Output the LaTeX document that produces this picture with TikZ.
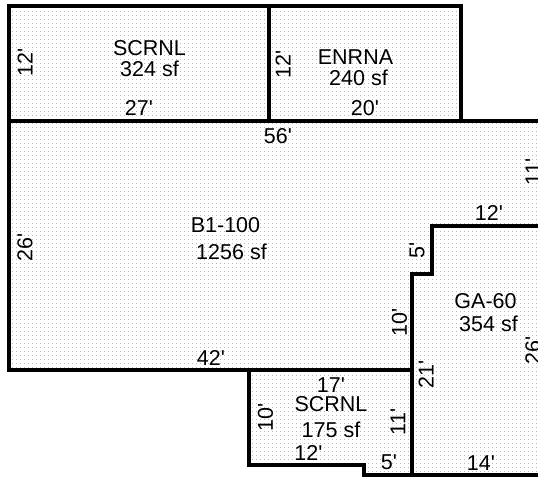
\documentclass[tikz,border=0pt]{standalone}
\usepackage{fontspec}
\setmainfont{Liberation Sans}[Ligatures=TeXOff]
\usetikzlibrary{patterns.meta}
\tikzset{
  wall/.style={line width=3.4pt, line cap=rect},
  thinwall/.style={line width=3.2pt, line cap=rect},
  plan/.style={pattern={Dots[radius=0.45pt, distance=4pt, xshift=1pt]}, pattern color=black!50},
  roomlabel/.style={font=\fontsize{21.5}{21}\selectfont, align=center, inner sep=0pt},
  dimlabel/.style={font=\fontsize{21.5}{21.5}\selectfont, inner sep=0pt},
  dimside/.style={dimlabel, rotate=90}
}
\begin{document}
\begin{tikzpicture}[x=1pt, y=-1pt]
    \useasboundingbox (0, 0) rectangle (538, 479);
    \begin{scope}
        \clip (0, 0) rectangle (538, 479);
        \fill[plan] (9, 6) -- (461, 6) -- (461, 121) -- (538, 121) -- (538, 475) -- (364, 475) -- (364, 465) -- (249, 465) -- (249, 370) -- (9, 370) -- cycle;

        % outlines
        \draw[wall] (9, 6) rectangle (461, 121);
        \draw[wall] (269, 6) -- (269, 121);
        \draw[wall] (9, 121) -- (9, 370) -- (412, 370);
        \draw[wall] (461, 121) -- (545, 121);
        \draw[wall] (545, 226) -- (432, 226) -- (432, 274) -- (412, 274) -- (412, 370);
        \draw[thinwall] (412, 370) -- (412, 475);
        \draw[wall] (249, 370) -- (249, 465) -- (364, 465) -- (364, 475) -- (545, 475);
    \end{scope}

    \node[roomlabel] (scrnlA) at (149.5, 59) {SCRNL\\324 sf};
    \node[roomlabel] (enrna) at (358.5, 67.5) {ENRNA\kern6pt\\240 sf};
    \node[roomlabel] (mainroom) at (231.5, 238.5) {B1-100\kern12pt\\[6pt]1256 sf};
    \node[roomlabel] (garage) at (488.5, 312.5) {GA-60\kern6pt\\[2pt]354 sf};
    \node[roomlabel] (scrnlB) at (331, 417.5) {SCRNL\\[5pt]175 sf};

    \node[dimlabel] (topA) at (139, 108) {27'};
    \node[dimlabel] (topB) at (365, 108.5) {20'};
    \node[dimlabel] (width) at (278, 136) {56'};
    \node[dimlabel] (notch) at (489, 213) {12'};
    \node[dimlabel] (lower) at (211, 358) {42'};
    \node[dimlabel] (porch) at (331, 385.5) {17'};
    \node[dimlabel] (stepA) at (308.5, 452.5) {12'};
    \node[dimlabel] (stepB) at (389, 462.5) {5'};
    \node[dimlabel] (garbot) at (481, 463) {14'};

    \node[dimside] (sideA) at (25, 62) {12'};
    \node[dimside] (sideB) at (283, 64) {12'};
    \node[dimside] (sideC) at (25, 247) {26'};
    \node[dimside] (sideD) at (533, 172) {11'};
    \node[dimside] (sideE) at (417, 250) {5'};
    \node[dimside] (sideF) at (399.5, 322) {10'};
    \node[dimside] (sideG) at (426, 374) {21'};
    \node[dimside] (sideH) at (533, 350) {26'};
    \node[dimside] (sideI) at (265.5, 417.5) {10'};
    \node[dimside] (sideJ) at (398, 422) {11'};
\end{tikzpicture}
\end{document}
